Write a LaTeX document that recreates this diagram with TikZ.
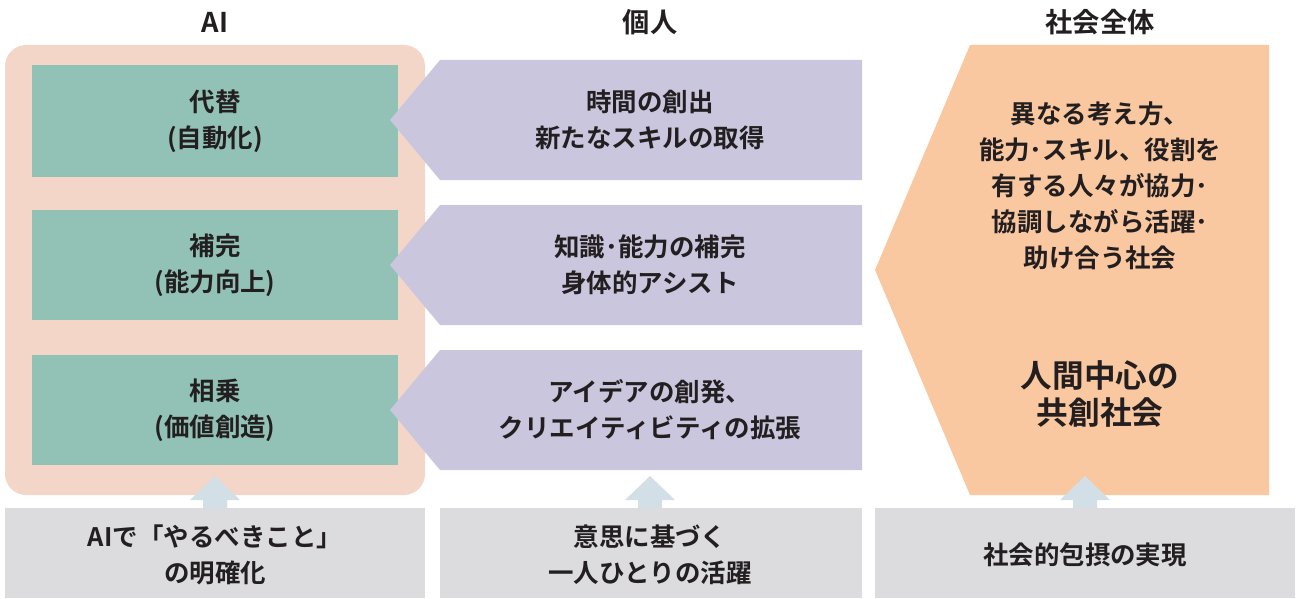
\documentclass[tikz,border=0pt]{standalone}
\usepackage{fontspec}
\setmainfont{Noto Sans CJK JP}[BoldFont={Noto Sans CJK JP Bold}]
\usetikzlibrary{positioning}
\definecolor{peach}{HTML}{F3D6C8}
\definecolor{teal}{HTML}{92C2B6}
\definecolor{lav}{HTML}{CAC6DE}
\definecolor{orng}{HTML}{F9C8A0}
\definecolor{grey}{HTML}{DCDCDE}
\definecolor{pale}{HTML}{D3DFE6}
\definecolor{ink}{HTML}{231F20}
\begin{document}
\begin{tikzpicture}[x=0.02cm,y=-0.02cm,
            every node/.style = {font=\bfseries\fontsize{14.5}{20.5}\selectfont, text=ink, align=center},
            head/.style = {font=\bfseries\fontsize{15.5}{18}\selectfont},
            aibox/.style = {fill=teal},
            upar/.style = {fill=pale}
            ]
            \useasboundingbox (0,0) rectangle (1300,598);
            % headers
            \node[head] (hai) at (215,22) {AI};
            \node[head] (hind) at (650,22) {個人};
            \node[head] (hsoc) at (1100,22) {社会全体};
            % AI column
            \fill[peach, rounded corners=12] (5,45) rectangle (425,495);
            \fill[aibox] (32,65) rectangle (398,177);
            \node (a1) at (215,121) {代替\\(自動化)};
            \fill[aibox] (32,210) rectangle (398,320);
            \node (a2) at (215,265) {補完\\(能力向上)};
            \fill[aibox] (32,355) rectangle (398,465);
            \node (a3) at (215,410) {相乗\\(価値創造)};
            % individual arrows
            \foreach \t/\n/\txt in {60/p1/{時間の創出\\新たなスキルの取得},
                                    205/p2/{知識･能力の補完\\身体的アシスト},
                                    350/p3/{アイデアの創発、\\クリエイティビティの拡張}} {
              \fill[lav] (440,\t) -- (862,\t) -- (862,\t+120) -- (440,\t+120) -- (390,\t+60) -- cycle;
              \node (\n) at (650,\t+60) {\txt};
            }
            % society
            \fill[orng] (970,45) -- (1269,45) -- (1269,495) -- (970,495) -- (875,270) -- cycle;
            \node (s1) at (1100,186) {異なる考え方、\\能力･スキル、役割を\\有する人々が協力･\\協調しながら活躍･\\助け合う社会};
            \node[font=\bfseries\fontsize{18}{21.5}\selectfont] (s2) at (1100,394) {人間中心の\\共創社会};
            % bottom boxes
            \fill[grey] (5,508) rectangle (425,598);
            \fill[grey] (440,508) rectangle (862,598);
            \fill[grey] (875,508) rectangle (1295,598);
            \foreach \x in {215,650,1085} {
              \fill[upar] (\x-12,508) -- (\x-12,500) -- (\x-25,500) -- (\x,476) -- (\x+25,500) -- (\x+12,500) -- (\x+12,508) -- cycle;
            }
            \node (b1) at (215,555) {AIで「やるべきこと」\\の明確化};
            \node (b2) at (650,555) {意思に基づく\\一人ひとりの活躍};
            \node (b3) at (1085,555) {社会的包摂の実現};
          \end{tikzpicture}
\end{document}
